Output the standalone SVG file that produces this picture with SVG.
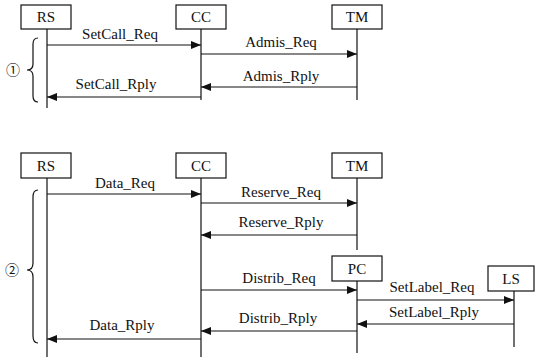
<svg xmlns="http://www.w3.org/2000/svg" width="535" height="363" viewBox="0 0 535 363">
<defs>
<marker id="ah" viewBox="0 0 10 8" refX="10" refY="4" markerWidth="10" markerHeight="8" orient="auto" markerUnits="userSpaceOnUse"><path d="M0,0 L10,4 L0,8 z" fill="#111"/></marker>
<style>
.box{fill:#fff;stroke:#111;stroke-width:1.2}
.life{stroke:#111;stroke-width:1.2;fill:none}
.msg{stroke:#111;stroke-width:1.2;fill:none;marker-end:url(#ah)}
.brace{stroke:#111;stroke-width:1.2;fill:none}
.t{font-family:'Liberation Serif', 'DejaVu Serif', serif;font-size:15px;fill:#111;text-anchor:middle}
.num{font-family:'Noto Sans CJK JP', 'DejaVu Sans', sans-serif;font-size:14px;fill:#111;text-anchor:middle}
</style>
</defs>
<rect width="535" height="363" fill="#fff"/>
<!-- Section 1 -->
<g id="rs1"><rect class="box" x="21" y="5" width="50" height="24"/><text class="t" x="46" y="22">RS</text><line class="life" x1="47" y1="29" x2="47" y2="108"/></g>
<g id="cc1"><rect class="box" x="176" y="5" width="50" height="24"/><text class="t" x="201" y="22">CC</text><line class="life" x1="201" y1="29" x2="201" y2="100"/></g>
<g id="tm1"><rect class="box" x="332" y="5" width="50" height="24"/><text class="t" x="357" y="22">TM</text><line class="life" x1="357" y1="29" x2="357" y2="100"/></g>
<g id="group1"><path class="brace" d="M38,38 Q33,38 33,44 L33,64 Q33,70 27,70 Q33,70 33,76 L33,96 Q33,102 38,102"/><text class="num" x="13" y="75">①</text></g>
<!-- Section 2 -->
<g id="rs2"><rect class="box" x="21" y="153" width="50" height="25"/><text class="t" x="46" y="171">RS</text><line class="life" x1="47" y1="178" x2="47" y2="357"/></g>
<g id="cc2"><rect class="box" x="176" y="153" width="50" height="25"/><text class="t" x="201" y="171">CC</text><line class="life" x1="201" y1="178" x2="201" y2="357"/></g>
<g id="tm2"><rect class="box" x="332" y="153" width="50" height="25"/><text class="t" x="357" y="171">TM</text><line class="life" x1="357" y1="178" x2="357" y2="250"/></g>
<g id="pc"><rect class="box" x="332" y="256" width="50" height="25"/><text class="t" x="357" y="274">PC</text><line class="life" x1="357" y1="281" x2="357" y2="353"/></g>
<g id="ls"><rect class="box" x="488" y="266" width="46" height="25"/><text class="t" x="511" y="284">LS</text><line class="life" x1="514" y1="291" x2="514" y2="347"/></g>
<g id="group2"><path class="brace" d="M38,190 Q33,190 33,197 L33,263 Q33,270 27,270 Q33,270 33,277 L33,336 Q33,343 38,343"/><text class="num" x="12" y="275">②</text></g>
<!-- Connectors -->
<g id="connectors">
<path class="msg" d="M47,45 H201"/><text class="t" x="120" y="39">SetCall_Req</text>
<path class="msg" d="M201,54 H357"/><text class="t" x="281" y="47">Admis_Req</text>
<path class="msg" d="M357,87 H201"/><text class="t" x="281" y="81">Admis_Rply</text>
<path class="msg" d="M201,97 H47"/><text class="t" x="116" y="89">SetCall_Rply</text>
<path class="msg" d="M47,194 H201"/><text class="t" x="125" y="188">Data_Req</text>
<path class="msg" d="M201,203 H357"/><text class="t" x="281" y="197">Reserve_Req</text>
<path class="msg" d="M357,235 H201"/><text class="t" x="281" y="227">Reserve_Rply</text>
<path class="msg" d="M201,290 H357"/><text class="t" x="279" y="283">Distrib_Req</text>
<path class="msg" d="M357,300 H514"/><text class="t" x="432" y="292">SetLabel_Req</text>
<path class="msg" d="M514,324 H357"/><text class="t" x="434" y="317">SetLabel_Rply</text>
<path class="msg" d="M357,331 H201"/><text class="t" x="278" y="323">Distrib_Rply</text>
<path class="msg" d="M201,339 H47"/><text class="t" x="122" y="330">Data_Rply</text>
</g>
</svg>
